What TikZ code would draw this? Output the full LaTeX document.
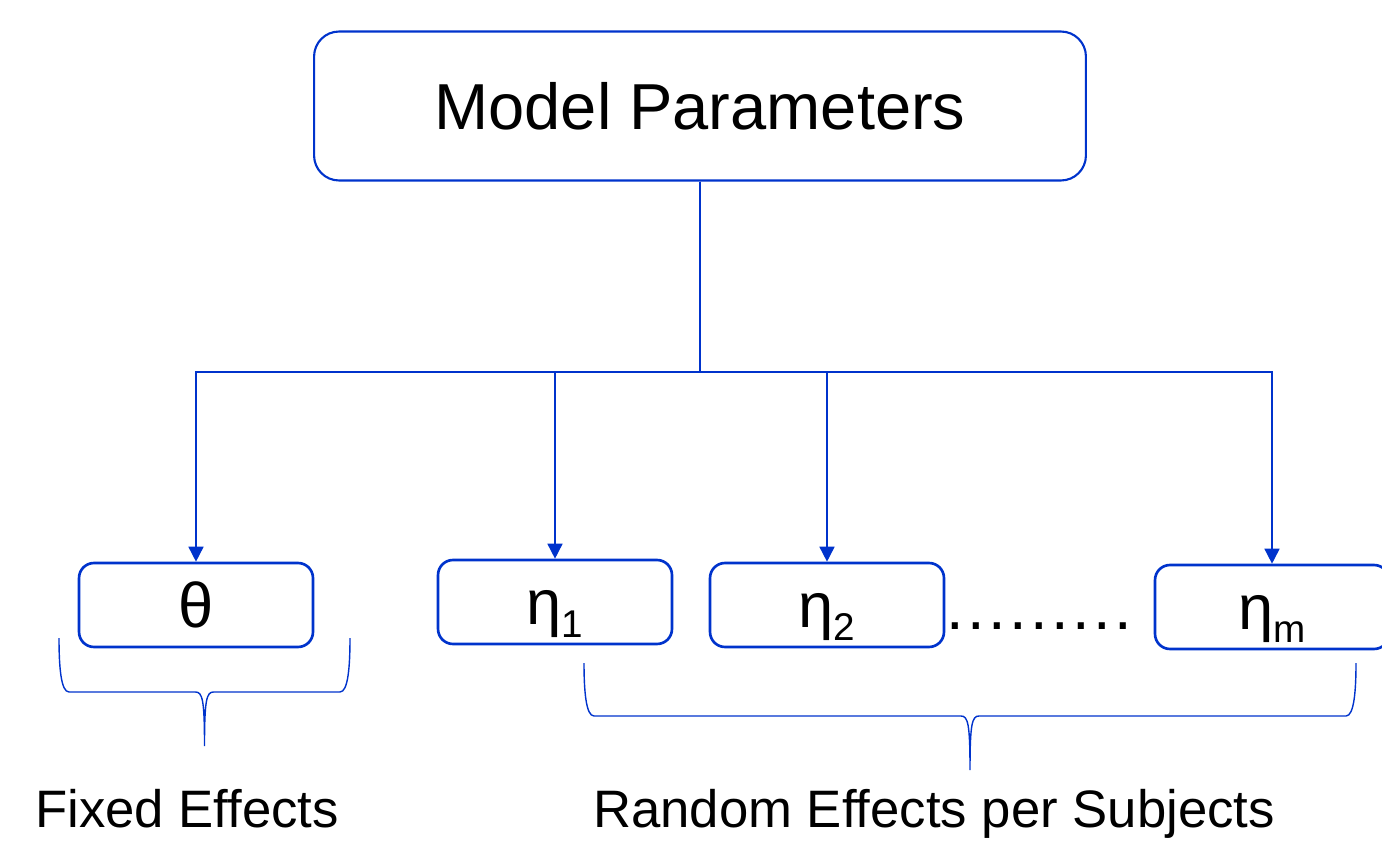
\documentclass[tikz,border=0pt]{standalone}
\usepackage{fontspec}
\setmainfont{Liberation Sans}
\usetikzlibrary{arrows.meta,positioning,calc}

\definecolor{pblue}{RGB}{0,51,204}
% lowered index after a Greek letter
\newcommand\lowidx[1]{\raisebox{-0.2em}{\fontsize{22}{24}\selectfont #1}}

\begin{document}
\begin{tikzpicture}[
  x=0.02cm, y=-0.02cm,
  top/.style={draw=pblue, line width=1.2pt, rounded corners=0.5cm, minimum width=15.44cm, minimum height=2.98cm,
    font=\fontsize{37}{40}\selectfont, text height=26.6pt, text depth=0pt},
  par/.style={draw=pblue, line width=1.5pt, rounded corners=0.3cm, minimum width=4.68cm, minimum height=1.68cm,
    font=\fontsize{36}{40}\selectfont, text height=26pt, text depth=0pt},
  lbl/.style={font=\fontsize{30}{33}\selectfont, anchor=base},
  link/.style={-{Triangle[length=0.3cm, width=0.3cm]}, draw=pblue, line width=0.9pt},
  brace/.style={draw=pblue, line width=0.8pt},
]
\useasboundingbox (0,0) rectangle (1382,844);

\node[top] (params) at (700,106) {Model Parameters};
\coordinate (split) at (700,372);

\node[par] (theta) at (196,605) {θ};
\node[par] (eta1) at (555,602) {η\lowidx{1}};
\node[par] (eta2) at (827,605) {η\lowidx{2}};
\node[par] (etam) at (1272,607) {η\lowidx{m}};
\node[anchor=base, font=\fontsize{36}{40}\selectfont, inner sep=0pt] (dots) at (1041,629)
  {\foreach \i in {1,...,9}{.\kern2pt}};

\foreach \n in {theta,eta1,eta2,etam}
  \draw[link] (params.south) -- (split) -| (\n.north);

% curly braces under the groups
\foreach \xl/\xr/\yt/\ym in {59/350/638/692, 584/1356/663/716}{
  \pgfmathsetmacro\xc{(\xl+\xr)/2}
  \pgfmathsetmacro\yb{\ym+54}
  \draw[brace] (\xl,\yt) .. controls (\xl,\ym-25) and (\xl+2,\ym) .. (\xl+10,\ym) -- (\xc-9,\ym)
    .. controls (\xc-2,\ym) and (\xc,\ym+8) .. (\xc,\yb)
    .. controls (\xc,\ym+8) and (\xc+2,\ym) .. (\xc+9,\ym) -- (\xr-10,\ym)
    .. controls (\xr-2,\ym) and (\xr,\ym-25) .. (\xr,\yt);
}

\node[lbl] (fixed) at (187,827) {Fixed Effects};
\node[lbl] (random) at (934,827) {Random Effects per Subjects};
\end{tikzpicture}
\end{document}
